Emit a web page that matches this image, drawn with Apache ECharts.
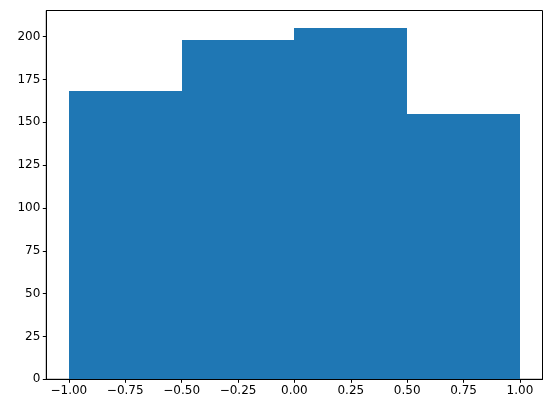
<!DOCTYPE html>
<html>
<head>
<meta charset="utf-8">
<script src="https://cdn.jsdelivr.net/npm/echarts@6/dist/echarts.min.js"></script>
<style>html,body{margin:0;padding:0;background:#fff}#c{width:552px;height:413px}</style>
</head>
<body>
<div id="c"></div>
<script>
const binEdges = [-1, -0.5, 0, 0.5, 1];
const counts = [168, 198, 205, 155];
const xTicks = [-1, -0.75, -0.5, -0.25, 0, 0.25, 0.5, 0.75, 1];
const yTicks = [0, 25, 50, 75, 100, 125, 150, 175, 200];

const data = counts.map((c, i) => [binEdges[i], binEdges[i + 1], c]);
const fmt = v => v.toFixed(2).replace('-', '\u2212');
const font = { fontFamily: 'DejaVu Sans', fontSize: 12, color: '#000' };

const chart = echarts.init(document.getElementById('c'), null, { renderer: 'canvas' });
chart.setOption({
  animation: false,
  grid: { left: 46.3, right: 9.5, top: 10.5, bottom: 33.7, show: true, borderColor: '#000', borderWidth: 1, backgroundColor: 'transparent' },
  xAxis: {
    type: 'value', min: -1.1, max: 1.1,
    axisLine: { show: true, onZero: false, lineStyle: { color: '#000', width: 1 } },
    axisTick: { show: true, length: 3.5, lineStyle: { color: '#000' }, customValues: xTicks },
    axisLabel: Object.assign({ margin: 6, formatter: fmt, customValues: xTicks }, font),
    splitLine: { show: false }
  },
  yAxis: {
    type: 'value', min: 0, max: 215.25,
    axisLine: { show: true, onZero: false, lineStyle: { color: '#000', width: 1 } },
    axisTick: { show: true, length: 3.5, lineStyle: { color: '#000' }, customValues: yTicks },
    axisLabel: Object.assign({ margin: 6, customValues: yTicks }, font),
    splitLine: { show: false }
  },
  series: [{
    type: 'custom',
    data: data,
    encode: { x: [0, 1], y: 2 },
    renderItem: function (params, api) {
      const p0 = api.coord([api.value(0), 0]);
      const p1 = api.coord([api.value(1), api.value(2)]);
      const x0 = Math.round(p0[0]), x1 = Math.round(p1[0]);
      const yb = Math.round(p0[1]), yt = Math.round(p1[1]);
      return {
        type: 'rect',
        shape: { x: x0, y: yt, width: x1 - x0, height: yb - yt },
        style: { fill: '#1f77b4' }
      };
    }
  }]
});
</script>
</body>
</html>
